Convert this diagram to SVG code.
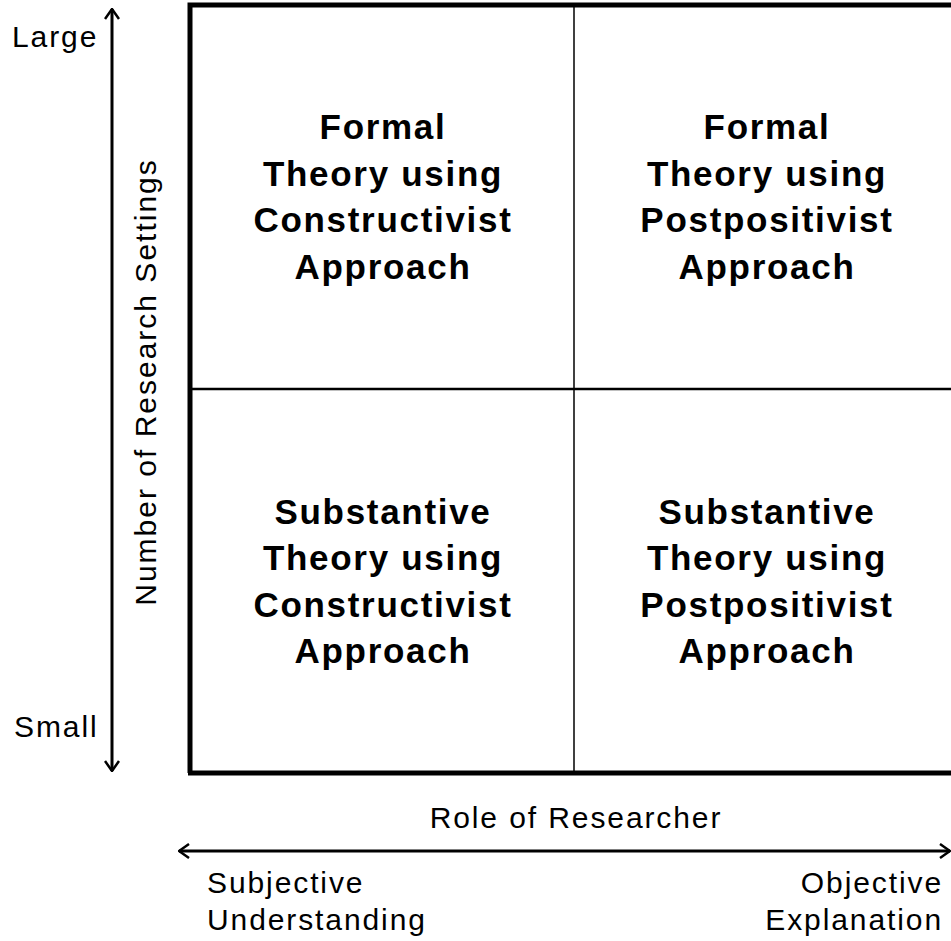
<svg xmlns="http://www.w3.org/2000/svg" width="951" height="941" viewBox="0 0 951 941">
  <style>
    .q { font-family: "Liberation Sans", Arial, sans-serif; font-weight: bold; font-size: 35px; letter-spacing: 1.7px; text-anchor: middle; fill: #000; }
    .lbl { font-family: "Liberation Sans", Arial, sans-serif; font-size: 30px; letter-spacing: 1.9px; fill: #000; }
    .axis { stroke: #000; stroke-width: 3; fill: none; }
  </style>
  <defs>
    <marker id="head" viewBox="0 0 12 16" refX="11" refY="8" markerWidth="12" markerHeight="16" markerUnits="userSpaceOnUse" orient="auto-start-reverse">
      <path d="M1,1 L11,8 L1,15" fill="none" stroke="#000" stroke-width="2.5"/>
    </marker>
  </defs>

  <rect width="951" height="941" fill="#fff"/>

  <!-- grid frame -->
  <g id="frame">
    <path d="M190,773 V5 H951" fill="none" stroke="#000" stroke-width="5"/>
    <line x1="188" y1="773" x2="951" y2="773" stroke="#000" stroke-width="5"/>
    <line x1="190" y1="389" x2="951" y2="389" stroke="#000" stroke-width="2.5"/>
    <line x1="574" y1="5" x2="574" y2="773" stroke="#000" stroke-width="1.5"/>
  </g>

  <g id="q-top-left">
    <text class="q" x="383" y="139">Formal</text>
    <text class="q" x="383" y="186">Theory using</text>
    <text class="q" x="383" y="232">Constructivist</text>
    <text class="q" x="383" y="279">Approach</text>
  </g>
  <g id="q-top-right">
    <text class="q" x="767" y="139">Formal</text>
    <text class="q" x="767" y="186">Theory using</text>
    <text class="q" x="767" y="232">Postpositivist</text>
    <text class="q" x="767" y="279">Approach</text>
  </g>
  <g id="q-bottom-left">
    <text class="q" x="383" y="524">Substantive</text>
    <text class="q" x="383" y="570">Theory using</text>
    <text class="q" x="383" y="617">Constructivist</text>
    <text class="q" x="383" y="663">Approach</text>
  </g>
  <g id="q-bottom-right">
    <text class="q" x="767" y="524">Substantive</text>
    <text class="q" x="767" y="570">Theory using</text>
    <text class="q" x="767" y="617">Postpositivist</text>
    <text class="q" x="767" y="663">Approach</text>
  </g>

  <!-- axes -->
  <g id="connectors">
    <line class="axis" x1="112" y1="9" x2="112" y2="771" marker-start="url(#head)" marker-end="url(#head)"/>
    <line class="axis" x1="179" y1="851" x2="950" y2="851" marker-start="url(#head)" marker-end="url(#head)"/>
  </g>

  <g id="y-axis-labels">
    <text class="lbl" x="12" y="47">Large</text>
    <text class="lbl" x="14" y="737">Small</text>
    <text class="lbl" text-anchor="middle" style="letter-spacing:2px" transform="translate(156,382) rotate(-90)">Number of Research Settings</text>
  </g>
  <g id="x-axis-labels">
    <text class="lbl" x="576" y="828" text-anchor="middle">Role of Researcher</text>
    <text class="lbl" x="207" y="893">Subjective</text>
    <text class="lbl" x="207" y="930">Understanding</text>
    <text class="lbl" x="943" y="893" text-anchor="end">Objective</text>
    <text class="lbl" x="943" y="930" text-anchor="end">Explanation</text>
  </g>
</svg>
